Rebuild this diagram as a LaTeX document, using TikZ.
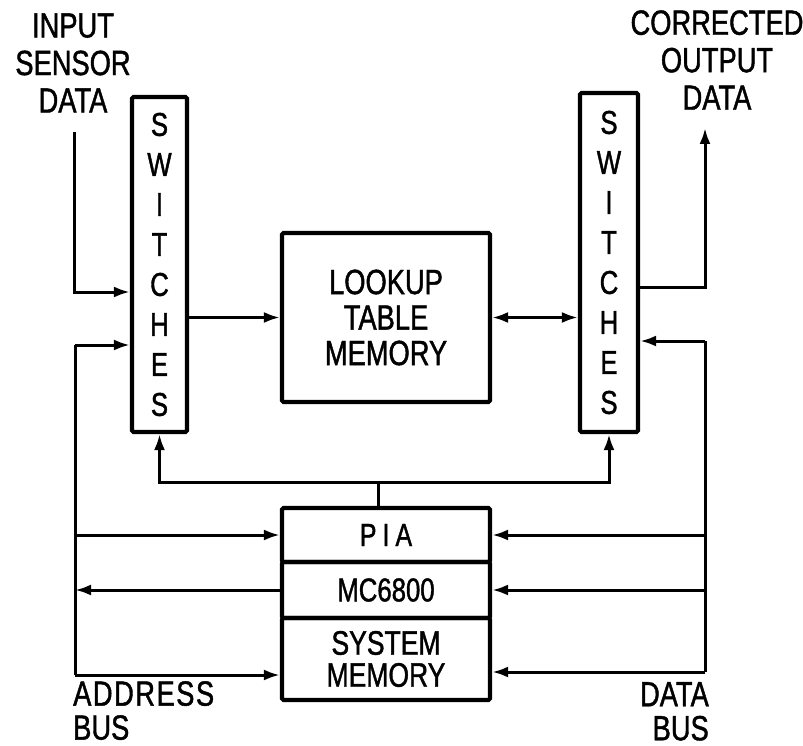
\documentclass[tikz,border=0pt]{standalone}
\usepackage{fontspec}
\setmainfont{Liberation Sans}[FakeStretch=0.78,FakeBold=1.2]
\usetikzlibrary{arrows.meta}
\begin{document}
\begin{tikzpicture}[x=1pt,y=-1pt,
  box/.style={draw, line width=4.2pt, rounded corners=1.5pt, inner sep=0pt, align=center},
  conn/.style={line width=3pt},
  arr/.style={conn, -{Latex[length=16pt,width=11pt]}},
  dbl/.style={conn, {Latex[length=16pt,width=11pt]}-{Latex[length=16pt,width=11pt]}},
  lbl/.style={inner sep=0pt, font=\fontsize{35}{37.5}\selectfont},
  swfont/.style={font=\fontsize{33}{40}\selectfont},
  bigfont/.style={font=\fontsize{35}{35.5}\selectfont}
]
\useasboundingbox (0,0) rectangle (803,746);

% switches
\node[box, swfont, minimum width=55pt, minimum height=335pt] (swL) at (159.5,264.5)
  {S\\W\\I\\T\\C\\H\\E\\S};
\node[box, swfont, minimum width=58pt, minimum height=339pt] (swR) at (609,262.5)
  {S\\W\\I\\T\\C\\H\\E\\S};

% lookup table
\node[box, bigfont, minimum width=208pt, minimum height=169pt] (lut) at (386,317.5)
  {LOOKUP\\TABLE\\MEMORY};

% processor stack
\node[box, font=\fontsize{32}{36}\selectfont, minimum width=208pt, minimum height=54pt] (pia) at (386,535)
  {P\hspace{6pt}I\hspace{6pt}A};
\node[box, font=\fontsize{33}{36}\selectfont, minimum width=208pt, minimum height=56pt] (mc) at (386,590)
  {MC6800};
\node[box, font=\fontsize{34}{32}\selectfont, minimum width=208pt, minimum height=82pt] (sysmem) at (386,659)
  {SYSTEM\\MEMORY};

% labels
\node[lbl, align=center] (inlbl) at (73,63) {INPUT\\SENSOR\\DATA};
\node[lbl, align=center] (outlbl) at (717,60) {CORRECTED\\OUTPUT\\DATA};
\node[lbl, align=left, anchor=north west, font=\fontsize{35}{34}\selectfont] (ablbl) at (73,681) {A\hspace{1.5pt}D\hspace{1.5pt}D\hspace{1.5pt}R\hspace{1.5pt}E\hspace{1.5pt}S\hspace{1.5pt}S\\ BUS};
\node[lbl, align=right, anchor=north east, font=\fontsize{35}{34}\selectfont] (dblbl) at (709,682) {DATA\\BUS};

% coordinates
\coordinate (inTop) at (74,132);
\coordinate (abTop) at (75,345);
\coordinate (abBot) at (75,675);
\coordinate (dbTop) at (705,341);
\coordinate (dbBot) at (705,672);
\coordinate (outTop) at (705,128);
\coordinate (outCorner) at (705,287);
\coordinate (busj) at (378,482);

% input
\draw[arr] (inTop) |- (swL.west |- 0,292);
% switches -> lookup
\draw[arr] (swL.east |- lut.west) -- (lut.west);
% lookup <-> switches
\draw[dbl] (lut.east) -- (swR.west |- lut.east);
% output
\draw[arr] (swR.east |- outCorner) -- (outCorner) -- (outTop);

% address bus
\draw[conn] (abTop) -- (abBot);
\draw[arr] (abTop) -- (swL.west |- abTop);
\draw[arr] (abTop |- pia.west) -- (pia.west);
\draw[arr] (mc.west) -- (abTop |- mc.west);
\draw[arr] (abBot) -- (sysmem.west |- abBot);

% data bus
\draw[conn] (dbTop) -- (dbBot);
\draw[arr] (dbTop) -- (swR.east |- dbTop);
\draw[arr] (dbTop |- pia.east) -- (pia.east);
\draw[arr] (dbTop |- mc.east) -- (mc.east);
\draw[arr] (dbBot) -- (sysmem.east |- dbBot);

% PIA control lines
\draw[conn] (busj |- pia.north) -- (busj);
\draw[arr] (busj) -| (swL.south);
\draw[arr] (busj) -| (swR.south);
\end{tikzpicture}
\end{document}
